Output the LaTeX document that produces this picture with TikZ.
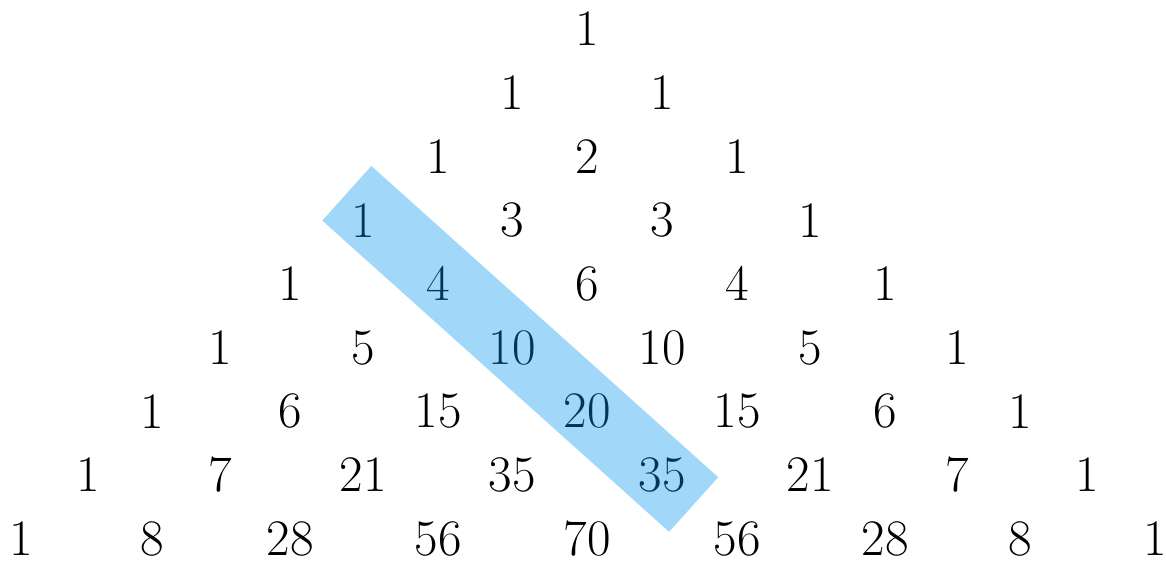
\documentclass[tikz,border=0pt]{standalone}
\usepackage{fontspec}
\begin{document}
\begin{tikzpicture}[x=0.5pt,y=-0.5pt,
  num/.style={inner sep=0pt, font=\fontsize{25.6}{30}\selectfont},
  hl/.style={fill={rgb,255:red,0;green,150;blue,240}, fill opacity=0.37, draw=none, rotate=-41.9, inner sep=0pt, minimum width=233pt, minimum height=36.7pt}]
\useasboundingbox (0,0) rectangle (1166,565);
\def\colx{{21,88,152,220,290,363,438,512,587,662,737,810,885,957,1020,1087,1155}}
\def\rowy{{29,92.7,156.4,220.1,283.8,347.6,411.3,475,538.7}}
\foreach \r/\vals in {0/{1},1/{1,1},2/{1,2,1},3/{1,3,3,1},4/{1,4,6,4,1},5/{1,5,10,10,5,1},6/{1,6,15,20,15,6,1},7/{1,7,21,35,35,21,7,1},8/{1,8,28,56,70,56,28,8,1}}{
  \foreach \v [count=\k from 0] in \vals {
    \pgfmathsetmacro{\xx}{\colx[8-\r+2*\k]}
    \pgfmathsetmacro{\yy}{\rowy[\r]}
    \node[num] (n-\r-\k) at (\xx,\yy) {\v};
  }
}
\node[hl] (band) at (520.25,348.9) {};
\end{tikzpicture}
\end{document}
